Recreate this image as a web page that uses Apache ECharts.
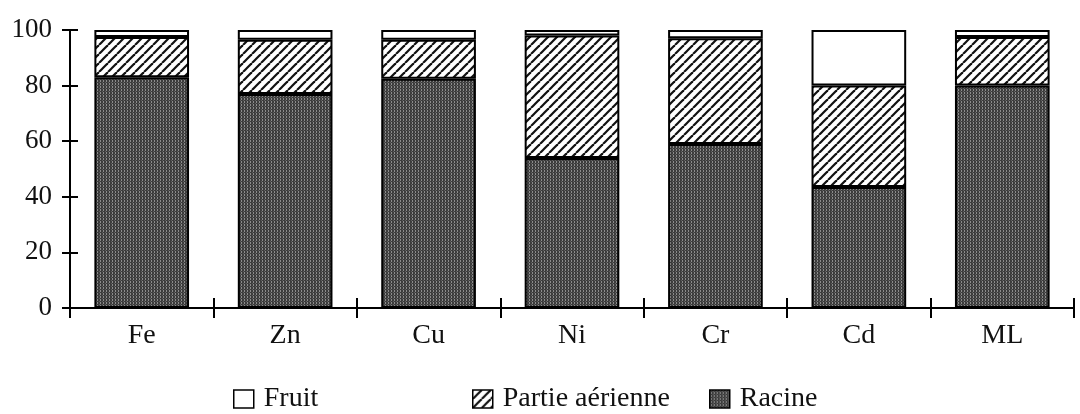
<!DOCTYPE html>
<html><head><meta charset="utf-8">
<script src="https://cdn.jsdelivr.net/npm/echarts@6/dist/echarts.min.js"></script>
<style>html,body{margin:0;padding:0;background:#fff}#c{width:1080px;height:414px}</style>
</head><body><div id="c"></div>
<script>
const categories = ['Fe','Zn','Cu','Ni','Cr','Cd','ML'];
const racine = [83, 77, 82.5, 54, 59, 43.5, 80];
const aerienne = [14.5, 19.5, 14, 44, 38, 36.5, 17.5];
const fruit = [2.5, 3.5, 3.5, 2, 3, 20, 2.5];
const yTicks = [0, 20, 40, 60, 80, 100];

function hatchPattern(){
  const s = 9, c = document.createElement('canvas');
  c.width = s; c.height = s;
  const g = c.getContext('2d');
  g.fillStyle = '#fff'; g.fillRect(0,0,s,s);
  g.strokeStyle = '#111'; g.lineWidth = 2.2;
  for (const o of [-s, 0, s]) {
    g.beginPath(); g.moveTo(o, s); g.lineTo(o + s, 0); g.stroke();
  }
  return c;
}
function dotPattern(){
  const c = document.createElement('canvas');
  c.width = 3; c.height = 3;
  const g = c.getContext('2d');
  g.fillStyle = '#3c3c3c'; g.fillRect(0,0,3,3);
  g.fillStyle = '#8c8c8c'; g.fillRect(1,0,1,1); g.fillRect(1,2,1,1);
  g.fillStyle = '#5e5e5e'; g.fillRect(0,1,1,1);
  return c;
}
const hatch = {image: hatchPattern(), repeat: 'repeat'};
const dots = {image: dotPattern(), repeat: 'repeat'};

const font = 'Liberation Serif';
const chart = echarts.init(document.getElementById('c'));
const common = {type:'bar', stack:'s', barWidth:'66%', animation:false};
const xBase = {type:'category', data:categories, boundaryGap:true,
  axisLine:{show:true, lineStyle:{color:'#000', width:2}},
  axisTick:{show:true, length:10, lineStyle:{color:'#000', width:2}, alignWithLabel:false}};
const yBase = {type:'value', min:0, max:100, interval:20, splitLine:{show:false},
  axisLine:{show:true, lineStyle:{color:'#000', width:2}},
  axisTick:{show:true, length:8, lineStyle:{color:'#000', width:2}}};
chart.setOption({
  backgroundColor:'#fff',
  grid:{left:70, right:6, top:30, bottom:106},
  legend:[
    {data:['Fruit'], left:233, top:385},
    {data:['Partie aérienne'], left:472, top:385},
    {data:['Racine'], left:709, top:385}
  ].map(l => Object.assign(l, {icon:'rect', itemWidth:20, itemHeight:18, padding:0,
      textStyle:{fontFamily:font, fontSize:28, color:'#111', padding:[0,0,0,5]},
      itemStyle:{borderColor:'#000', borderWidth:1.5}})),
  xAxis:[
    Object.assign({}, xBase, {axisLabel:{fontFamily:font, fontSize:28, color:'#111', margin:14}}),
    Object.assign({}, xBase, {position:'bottom', axisLabel:{show:false}, axisTick:Object.assign({}, xBase.axisTick, {inside:true})})
  ],
  yAxis:[
    Object.assign({}, yBase, {axisLabel:{fontFamily:font, fontSize:27, color:'#111', margin:18,
      formatter: v => yTicks.includes(v) ? String(v) : ''}}),
    Object.assign({}, yBase, {position:'left', axisLabel:{show:false}, axisTick:Object.assign({}, yBase.axisTick, {inside:true})})
  ],
  series:[
    Object.assign({}, common, {name:'Racine', data:racine,
      itemStyle:{color:dots, borderColor:'#000', borderWidth:2}}),
    Object.assign({}, common, {name:'Partie aérienne', data:aerienne,
      itemStyle:{color:hatch, borderColor:'#000', borderWidth:2}}),
    Object.assign({}, common, {name:'Fruit', data:fruit,
      itemStyle:{color:'#fff', borderColor:'#000', borderWidth:2}})
  ]
});
</script></body></html>
